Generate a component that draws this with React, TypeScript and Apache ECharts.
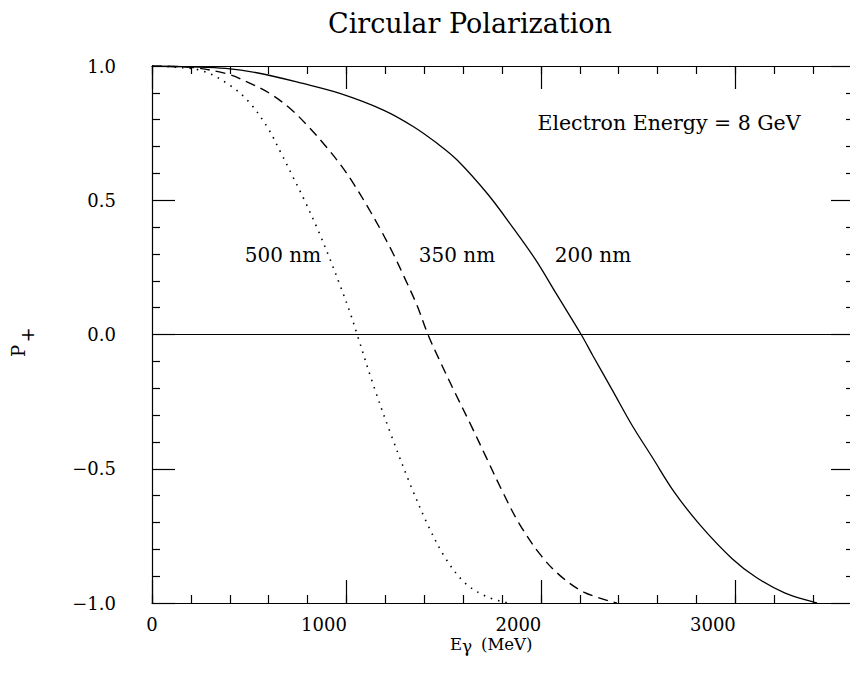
import React, { useEffect, useRef } from "react";
import * as echarts from "echarts";

const FONT = "'DejaVu Serif', 'Liberation Serif', serif";

// 200 nm (solid)
const energy200 = [0, 200, 379, 552, 776, 966, 1190, 1345, 1466, 1569, 1724, 1853, 1974, 2078, 2207, 2268, 2368, 2467, 2575, 2684, 2819, 2982, 3108, 3253, 3420];
const pol200 = [1.0, 0.997, 0.991, 0.973, 0.935, 0.898, 0.836, 0.774, 0.712, 0.65, 0.525, 0.401, 0.277, 0.153, 0.0, -0.08, -0.208, -0.336, -0.46, -0.585, -0.71, -0.834, -0.905, -0.962, -1.0];

// 350 nm (dashed)
const energy350 = [0, 200, 379, 491, 612, 716, 802, 888, 974, 1038, 1107, 1176, 1241, 1293, 1362, 1419, 1473, 1555, 1645, 1717, 1799, 1889, 1997, 2097, 2223, 2390];
const pol350 = [1.0, 0.995, 0.972, 0.94, 0.895, 0.838, 0.776, 0.706, 0.628, 0.56, 0.478, 0.39, 0.3, 0.22, 0.11, 0.0, -0.087, -0.212, -0.345, -0.455, -0.58, -0.705, -0.82, -0.897, -0.96, -1.0];

// 500 nm (dotted)
const energy500 = [0, 100, 259, 397, 500, 595, 664, 716, 784, 853, 914, 966, 1017, 1055, 1139, 1226, 1329, 1419, 1510, 1609, 1717, 1830];
const pol500 = [1.0, 0.997, 0.982, 0.93, 0.865, 0.77, 0.675, 0.6, 0.5, 0.39, 0.283, 0.185, 0.085, 0.0, -0.19, -0.367, -0.56, -0.71, -0.834, -0.925, -0.975, -1.0];

const curveLabels = ["500 nm", "350 nm", "200 nm"];
const titleText = "Circular Polarization";
const noteText = "Electron Energy = 8 GeV";

const X_MIN = 0;
const X_MAX = 3610;
const X_MAJOR = 1000;
const X_MINOR = 200;
const Y_MIN = -1;
const Y_MAX = 1;
const Y_MAJOR = 0.5;

function pairs(e: number[], p: number[]) {
  return e.map((x, i) => [x, p[i]]);
}

export default function App() {
  const ref = useRef<HTMLDivElement>(null);

  useEffect(() => {
    if (!ref.current) return;
    const chart = echarts.init(ref.current, null, { renderer: "svg" });
    const black = "#000";
    const axisLineStyle = { color: black, width: 1.2 };

    const majorX = (position: string, showLabel: boolean) => ({
      type: "value",
      position,
      min: X_MIN,
      max: X_MAX,
      interval: X_MAJOR,
      axisLine: { show: true, onZero: false, lineStyle: axisLineStyle },
      axisTick: { show: true, inside: true, length: 23, lineStyle: axisLineStyle },
      axisLabel: showLabel
        ? {
            show: true,
            margin: 12,
            showMaxLabel: false,
            align: "center",
            formatter: (v: number) => (v === 0 ? "{z|0}" : `{n|${v}}`),
            rich: {
              z: { fontFamily: FONT, fontSize: 18, color: black },
              n: { fontFamily: FONT, fontSize: 18, color: black, padding: [0, 45, 0, 0] },
            },
          }
        : { show: false },
      splitLine: { show: false },
    });

    const minorX = (position: string) => ({
      type: "value",
      position,
      min: X_MIN,
      max: X_MAX,
      interval: X_MINOR,
      axisLine: { show: false, onZero: false },
      axisTick: { show: true, inside: true, length: 8, lineStyle: axisLineStyle },
      axisLabel: { show: false },
      splitLine: { show: false },
    });

    const yAx = (position: string, showLabel: boolean) => ({
      type: "value",
      position,
      min: Y_MIN,
      max: Y_MAX,
      interval: Y_MAJOR,
      axisLine: { show: true, onZero: false, lineStyle: axisLineStyle },
      axisTick: { show: true, inside: true, length: 23, lineStyle: axisLineStyle },
      minorTick: { show: true, splitNumber: 5, length: 8, lineStyle: axisLineStyle },
      axisLabel: showLabel
        ? {
            show: true,
            margin: 36,
            fontFamily: FONT,
            fontSize: 18,
            color: black,
            formatter: (v: number) => (v < 0 ? "\u2212" : "") + Math.abs(v).toFixed(1),
          }
        : { show: false },
      splitLine: { show: false },
      minorSplitLine: { show: false },
    });

    const textStyle = (text: string, size: number, align = "center") => ({
      text,
      fontSize: size,
      fontFamily: FONT,
      fill: black,
      align,
      verticalAlign: "middle",
    });

    const curve = (name: string, e: number[], p: number[], width: number, type: any) => ({
      type: "line",
      name,
      xAxisIndex: 0,
      yAxisIndex: 0,
      data: pairs(e, p),
      showSymbol: false,
      smooth: 0.35,
      lineStyle: { color: black, width, type },
    });

    const s200: any = curve("200 nm", energy200, pol200, 1.3, "solid");
    s200.markLine = {
      silent: true,
      symbol: "none",
      label: { show: false },
      lineStyle: { color: black, width: 1.2, type: "solid" },
      data: [{ yAxis: 0 }],
    };

    chart.setOption({
      animation: false,
      backgroundColor: "#fff",
      grid: {
        left: 152,
        top: 66,
        width: 702,
        height: 537,
        containLabel: false,
        outerBoundsMode: "none",
      },
      xAxis: [majorX("bottom", true), minorX("bottom"), majorX("top", false), minorX("top")],
      yAxis: [yAx("left", true), yAx("right", false)],
      series: [
        s200,
        curve("350 nm", energy350, pol350, 1.4, [10, 6]),
        curve("500 nm", energy500, pol500, 1.6, [1.5, 6]),
      ],
      graphic: [
        { type: "text", x: 470, y: 23, style: textStyle(titleText, 27) },
        { type: "text", x: 669, y: 123, style: textStyle(noteText, 20.5) },
        { type: "text", x: 283, y: 255, style: textStyle(curveLabels[0], 20) },
        { type: "text", x: 457, y: 255, style: textStyle(curveLabels[1], 20) },
        { type: "text", x: 593, y: 255, style: textStyle(curveLabels[2], 20) },
        { type: "text", x: 450, y: 644, style: textStyle("E", 16.5, "left") },
        { type: "text", x: 462, y: 646, style: textStyle("\u03b3", 17, "left") },
        { type: "text", x: 481, y: 644, style: textStyle("(MeV)", 16.5, "left") },
        { type: "text", x: 18, y: 351, rotation: Math.PI / 2, style: textStyle("P", 18) },
        { type: "text", x: 27, y: 335, rotation: Math.PI / 2, style: textStyle("+", 18) },
      ],
    });

    return () => chart.dispose();
  }, []);

  return (
    <div
      ref={ref}
      style={{ position: "fixed", left: 0, top: 0, width: 850, height: 674, background: "#fff" }}
    />
  );
}
